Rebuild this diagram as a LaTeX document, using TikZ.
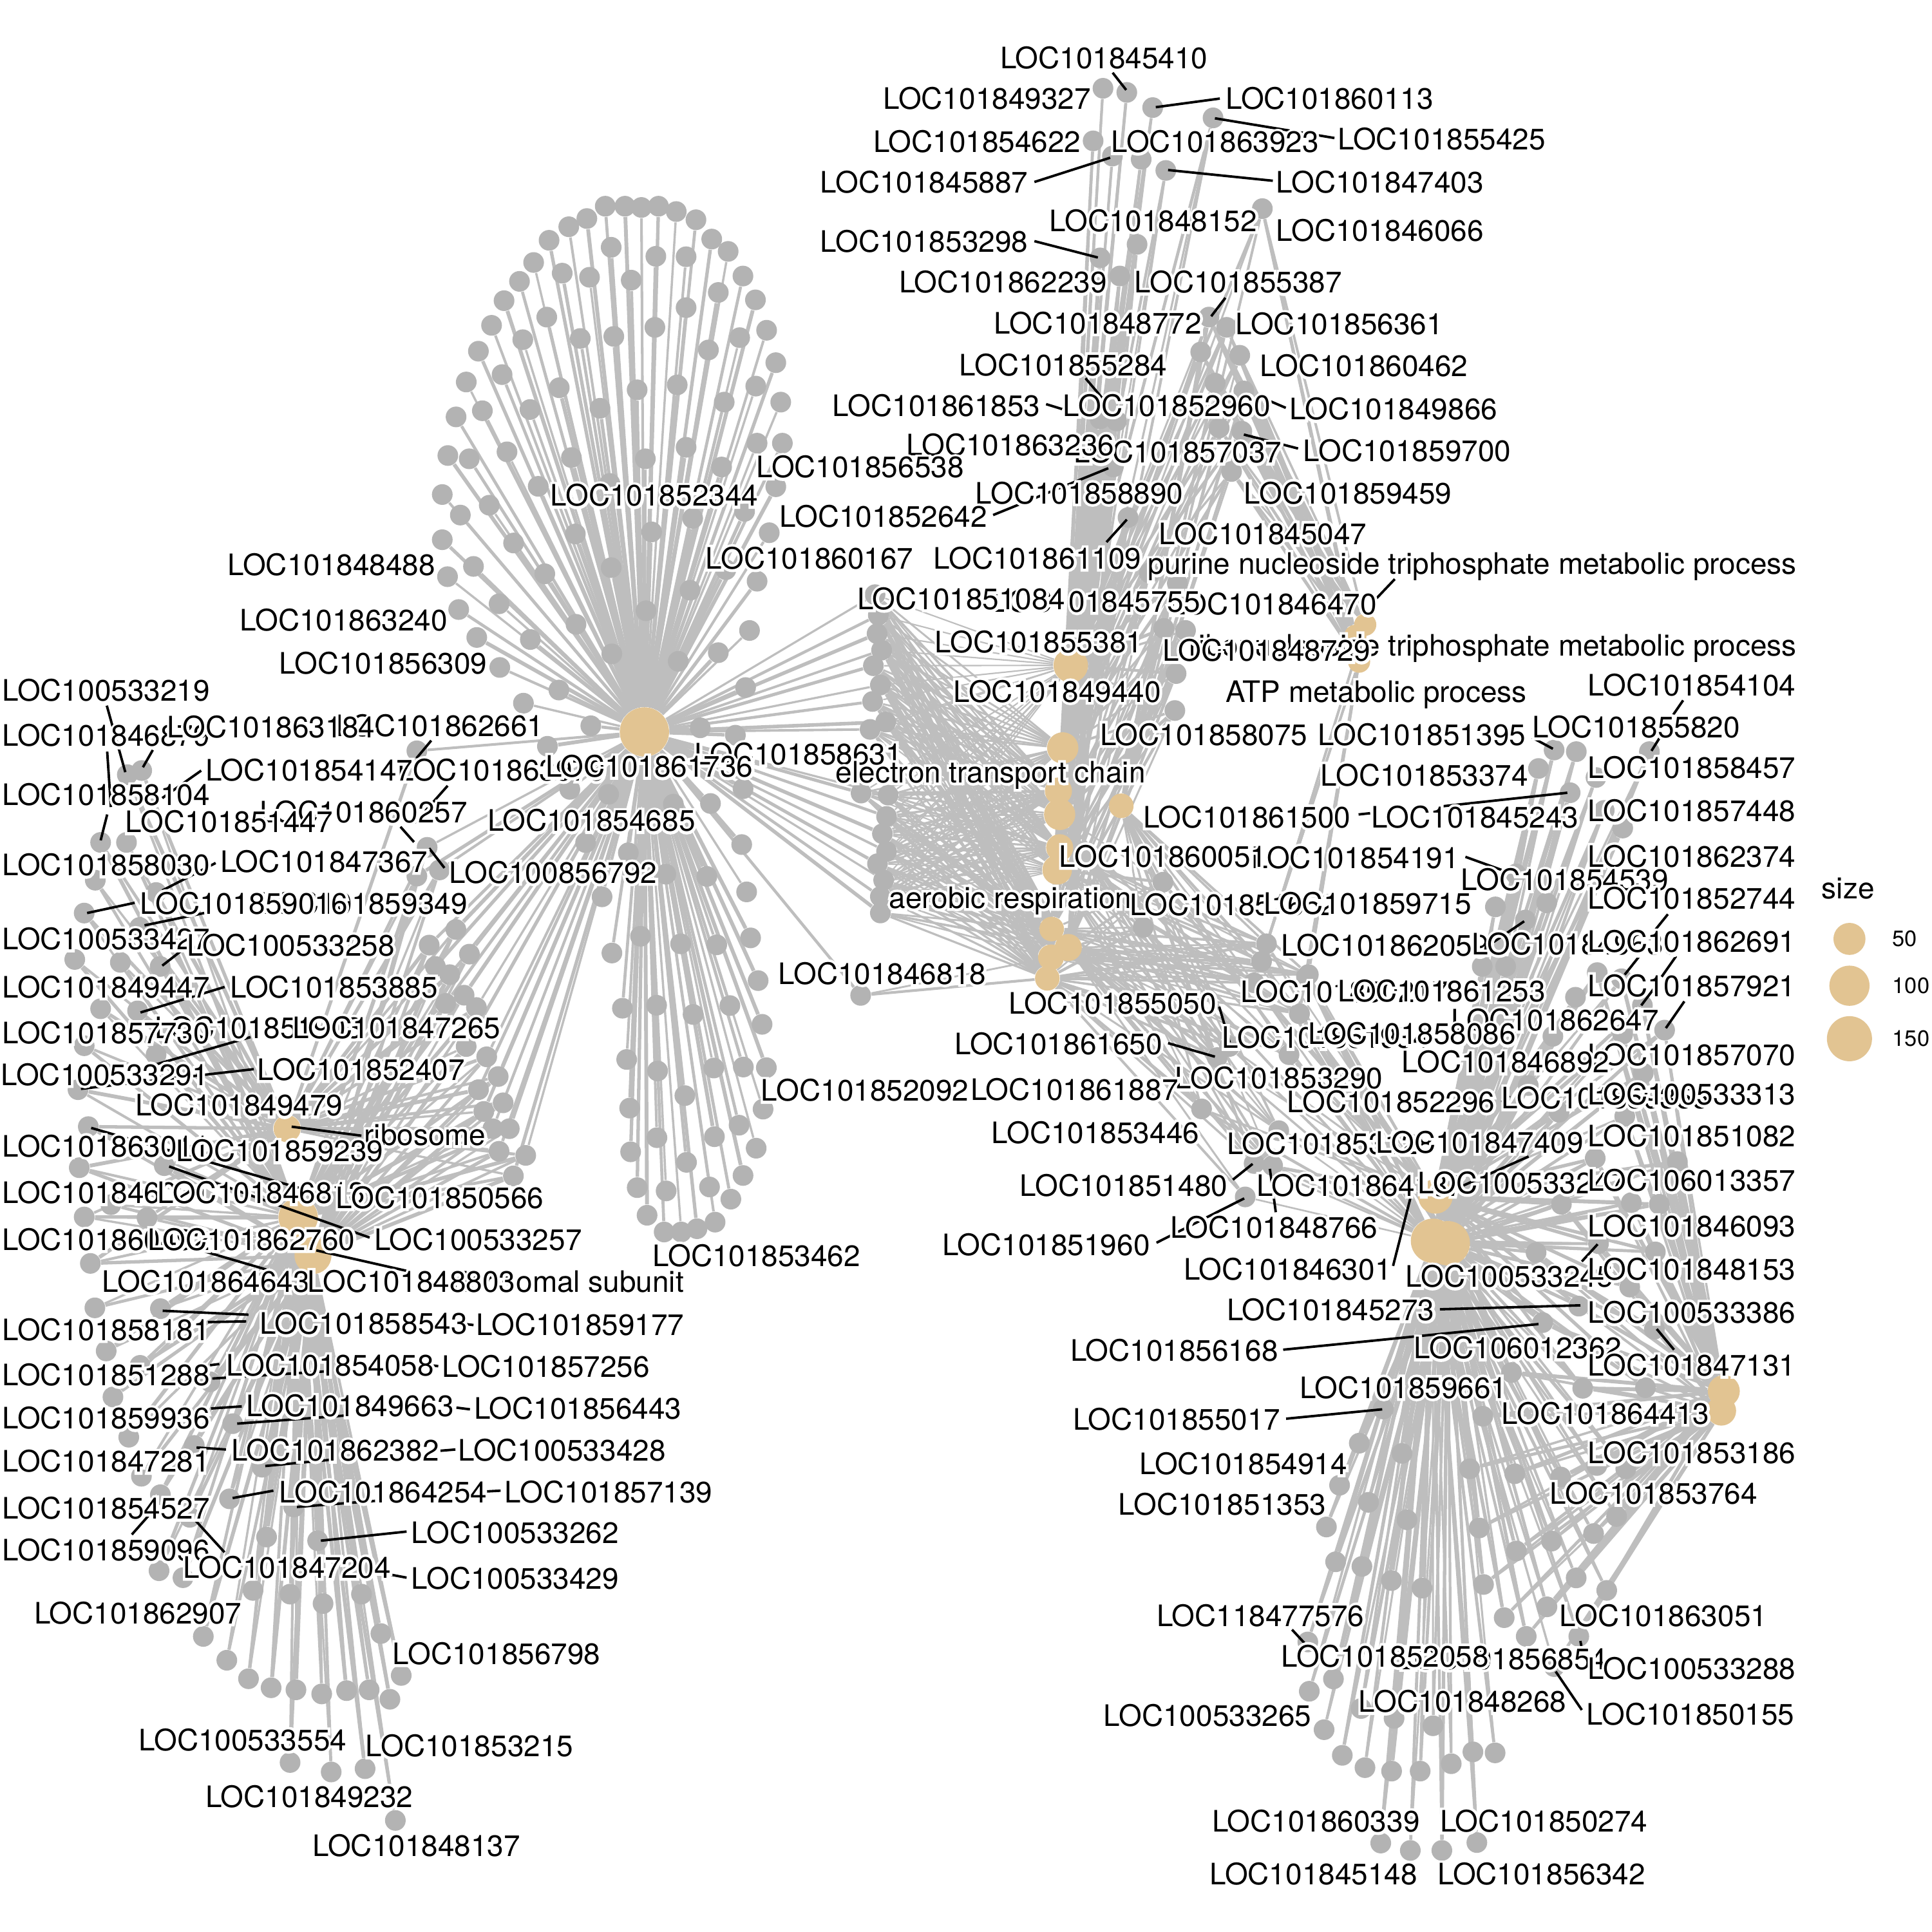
\documentclass[tikz,border=0pt]{standalone}
\usepackage{fontspec}
\setmainfont{TeX Gyre Heros}
\newfontfamily\halofont[FakeBold=18]{TeX Gyre Heros}
\usetikzlibrary{calc}
\pgfdeclarelayer{edges}\pgfdeclarelayer{labs}
\pgfsetlayers{edges,main,labs}
\definecolor{genecol}{HTML}{B3B3B3}
\definecolor{edgecol}{HTML}{BEBEBE}
\definecolor{hubcol}{HTML}{E2C492}
\tikzset{
 gene/.style={circle,fill=genecol,draw=none,inner sep=0pt,minimum size=8.4pt},
 hubnode/.style={circle,fill=hubcol,draw=none,inner sep=0pt,minimum size=#1},
 edge/.style={draw=edgecol},
 leader/.style={draw=black,line width=1pt},
 labeltext/.style={inner sep=0pt,outer sep=0pt,font=\fontsize{12}{14}\selectfont,text=black},
 legtext/.style={inner sep=0pt,outer sep=0pt,font=\fontsize{9}{11}\selectfont,anchor=west}
}
\newcounter{gn}\newcounter{en}\newcounter{ln}\newcounter{ld}\newcounter{gs}
\gdef\alllinks{}
\newcommand\links[4]{\foreach \g in {#1,...,#2}{\foreach \h in {#3}{\stepcounter{en}\pgfmathsetmacro\lw{#4*(0.9+0.16*mod(7*\arabic{en},5))}\draw[edge,line width=\lw pt] (\h) -- (g\g);}}}
\newcommand\genes[7][1]{%
\setcounter{gs}{\value{gn}}\stepcounter{gs}%
\foreach \zx/\zy in {#7}{%
 \stepcounter{gn}%
 \pgfmathsetmacro\px{#2+#3*\zx}\pgfmathsetmacro\py{#4+#5*\zy}%
 \node[gene] (g\arabic{gn}) at (\px,\py) {};%
}%
\xdef\alllinks{\unexpanded\expandafter{\alllinks}\noexpand\links{\arabic{gs}}{\arabic{gn}}{#6}{#1}}%
}
\newcommand\morelinks[2]{\xdef\alllinks{\unexpanded\expandafter{\alllinks}\noexpand\links{\arabic{gs}}{\arabic{gn}}{#1}{#2}}}
\newcommand\lab[4][center]{\stepcounter{ln}%
 \node[labeltext,anchor=#1] (l\arabic{ln}) at (#2,#3) {\rlap{\color{white}\halofont #4}#4};}
\newcommand\lead[4]{\stepcounter{ld}%
 \coordinate (pa\arabic{ld}) at (#1,#2);\coordinate (pb\arabic{ld}) at (#3,#4);\draw[leader] (pa\arabic{ld}) -- (pb\arabic{ld});}
\begin{document}
\begin{tikzpicture}[x=0.5pt,y=-0.5pt]
\begin{pgfonlayer}{edges}
\fill[white] (0,0) rectangle (1568,1568);
\end{pgfonlayer}
\useasboundingbox (0,0) rectangle (1568,1568);
% hubs
\node[hubnode=20pt] (H) at (523,594) {};
\node[hubnode=14pt] (M1) at (869,540) {};
\node[hubnode=12.7pt] (M2) at (862.5,607) {};
\node[hubnode=11pt] (M3) at (859,642) {};
\node[hubnode=12.7pt] (M4) at (860,661) {};
\node[hubnode=10pt] (M5) at (910,654) {};
\node[hubnode=11pt] (M6) at (860,688) {};
\node[hubnode=12pt] (M7) at (858,706) {};
\node[hubnode=10pt] (M8) at (853.5,754) {};
\node[hubnode=11pt] (M9) at (867,769) {};
\node[hubnode=10.5pt] (M10) at (853,777) {};
\node[hubnode=10pt] (M11) at (850,794) {};
\node[hubnode=9pt] (P1) at (1108,507) {};
\node[hubnode=9pt] (P2) at (1100,516) {};
\node[hubnode=9pt] (P3) at (1103,537) {};
\node[hubnode=14pt] (B1) at (1165,971) {};
\node[hubnode=18pt] (B2) at (1163,1007) {};
\node[hubnode=18pt] (B3) at (1175,1009) {};
\node[hubnode=13pt] (RA) at (1399,1129) {};
\node[hubnode=12pt] (RB) at (1397,1145) {};
\node[hubnode=11pt] (Ra) at (233,916) {};
\node[hubnode=16pt] (Rb) at (242,988) {};
\node[hubnode=15pt] (Rc) at (254,1019) {};
% central hub: upper fan
\genes{313.6}{.2667}{130.7}{.33333}{H}{666/110,726/110,776/113,828/110,882/123,942/143,610/140,555/160,495/193,448/247,405/293,358/340,320/400,280/463,243/538,212/623,187/717,170/812,170/922,186/1012,220/1092,275/1160,345/1233,990/190,1040/220,1085/280,1123/338,1157/412,1185/491,1200/587,1205/687,1185/793,1165/905,1128/1023,1105/1143,684/210,820/232,912/233,535/273,618/283,745/290,1010/320,912/357,488/380,415/435,590/432,692/427,817/405,980/460,1075/430,352/520,526/552,763/557,885/545,1124/548,1028/587,292/608,437/605,650/602,367/708,252/725,563/722,788/725,912/697,1128/687,1020/745,462/792,680/785,1090/853,313/838,225/862,575/908,807/903,932/870,387/930,265/987,482/1005,684/990,1033/995,343/1078,577/1128,790/1095,924/1045,438/1165,686/1200,888/1218,1010/1197,525/1288,1093/1282,417/1320,622/1375,490/1425,955/1380,1062/1398}
% central hub: lower fan
\genes{339.8}{.2667}{627.3}{.2667}{H}{460/50,578/65,775/95,888/93,987/48,508/212,638/243,983/218,752/308,877/315,998/362,558/377,1010/502,907/523,797/520,675/497,588/548,1033/632,947/708,835/735,724/707,620/716,1045/765,633/872,727/907,898/898,988/895,1058/897,810/982,642/1020,1048/1023,975/1072,900/1107,725/1110,645/1153,1027/1142,815/1185,987/1225,885/1260,665/1262,753/1272,950/1297,695/1346,902/1367,847/1387,799/1397,747/1397}
\genes[.7]{339.8}{.2667}{627.3}{.2667}{M11,M10}{1345/677}\morelinks{H}{.85}
% column between central hub and middle hubs
\genes[.62]{679.5}{.33333}{444.3}{.33333}{M1,M2,M3,M4,M6,M7,M8,M9,M10,M11}{92/115,100/165,97/210,108/250,88/288,105/335,86/375,118/425,80/443,58/598,124/603,120/655,110/697,120/740,98/770,113/810,105/850,105/890}\morelinks{H}{.95}
% top fan
\genes[.8]{679.5}{.33333}{0}{.33333}{M1,M4,M8}{647/215,705/225,768/262,915/287,623/343,670/380,740/388,800/415}
\genes[.85]{679.5}{.33333}{0}{.33333}{M1,M2,M4,M7,M8,M9}{730/595,640/628,688/672,640/1020,680/1025,640/1095,672/1137,708/1260,760/1395,828/1420,795/1530,848/1535,825/1640,822/1730}
\genes[.85]{679.5}{.33333}{0}{.33333}{P1,P2,P3,M1,M2,M5}{1035/508,905/772,948/797,885/857,980/865,920/933,990/952,930/1042,985/1050,960/1148}
% lower middle
\genes[.75]{679.5}{.33333}{444.3}{.33333}{M5,M6,M7,M8,M9,M10,M11,P1,P3,B1,B2}{1045/965,1033/1008,1015/1060,1147/1040,1125/1135}
\genes[.75]{679.5}{.33333}{444.3}{.33333}{M4,M5,M7,M8,M9,M11,B1,B2}{1100/1235,925/1242,955/1215,887/1367,1075/1420,1015/1500,1060/1505,745/925,793/815}
\genes[.75]{888.6}{.4}{888.6}{.4}{M9,M11,B2}{305/207}
% right upper
\genes{1045.3}{.33333}{522.7}{.33333}{B1,B2,B3}{648/258,702/262,610/303,880/262,750/325,687/362,770/405,815/448,555/560,505/640,630/630,578/672,473/785,530/785,700/860,645/955,585/1075,660/1140,45/810,28/900}
\genes{1045.3}{.33333}{522.7}{.33333}{B1,B2,RA,RB}{753/800,812/815,863/880,917/940,815/950,865/1045,820/1150}
% bottom-right fans
\genes{1045.3}{.2667}{914.7}{.2667}{B1,B2,B3,RA,RB}{935/95,1185/105,832/235,1045/230,1130/235,755/382,945/355,1118/380,1040/487,885/545,775/595,1115/615,680/747,897/795,1088/793,593/880}
\genes[.9]{1045.3}{.2667}{914.7}{.2667}{B2,B3}{290/858,217/962,347/993,157/1090,117/1217,245/1142,145/1323,225/1337,362/1195,315/1380,408/1403}
\genes[.9]{1045.3}{.2667}{914.7}{.2667}{B2,B3,RA,RB}{553/1040,690/1055,830/1065,940/1030,1028/1040,582/1220,1000/1185,930/1237,802/1260,695/1290,595/1392,877/1372,970/1410,788/1460,658/1493,725/1550,885/1550}
\genes[.9]{888.6}{.4}{888.6}{.4}{B2,B3}{432/1110,484/1185,435/1210,465/1288,502/1340,548/1365,602/1372,660/1372,723/1357,767/1333,812/1335,540/1245,607/1265,686/1280,580/1518,640/1533,704/1533,775/1517}
\genes{888.6}{.4}{888.6}{.4}{B2,RB}{932/1160}
% left group
\genes{0}{.33333}{522.7}{.33333}{Ra,Rb}{310/318,345/308,245/483,308/483,232/575,380/605,205/655,340/690,182/768,293/775,390/785,245/888,335/893,205/978,380/1000,190/1085}
\genes{0}{.33333}{522.7}{.33333}{Ra,Rb,Rc}{215/1175,193/1275,400/1270,205/1395,358/1397,270/1365,220/1508}
\genes{0}{.33333}{522.7}{.33333}{H,Ra,Rb,Rc}{1040/495,1015/565,1070/550,1110/695,1045/733,1143/755,1060/785,1095/805,1130/855,1085/875,1160/885,1135/980,1185/1005,1213/1053,1165/1085,1225/1117,1178/1138,1200/1180,1240/1180,1215/1235,1280/1245,1250/1295}
\genes{0}{.33333}{522.7}{.33333}{H,Ra}{1015/260}
\genes{0}{.3667}{993.1}{.33333}{Rb,Rc}{210/205,355/207,235/310,310/345,250/422,465/385,285/520,515/487,430/540,313/615,580/593,355/660,508/670,650/690,420/715,590/763,703/772,352/845,405/862,560/893,642/902,715/925,800/902,450/1005,843/998,502/1063,888/1100,550/1108,600/1130,655/1135,712/1145,767/1137,817/1135,863/1158,642/1312,733/1335,808/1327,875/1453}
% all edges, once, under the nodes
\begin{pgfonlayer}{edges}
\alllinks
\end{pgfonlayer}
\begin{pgfonlayer}{labs}
% leader lines
\lead{903}{59}{914}{73}\lead{990}{80}{938}{87}\lead{1083}{112}{986}{96}\lead{839.5}{147.7}{901}{128}\lead{1033}{146.7}{948}{138}\lead{839.5}{195.7}{891}{209}\lead{994.5}{241.7}{983}{256.7}\lead{881}{307}{894.5}{323}\lead{849}{328}{862}{332}\lead{1043.5}{331}{1029.5}{325}\lead{1053.5}{364}{1009.5}{352.7}\lead{806}{418}{899.5}{380}\lead{898}{440}{914.5}{421.7}\lead{1132}{470}{1113}{490}
\lead{86.7}{572.7}{101.7}{626.7}\lead{124}{608.7}{116}{622.7}\lead{87}{610}{90}{655}\lead{87}{661}{81.7}{682}\lead{163.3}{625.4}{131.7}{647.7}\lead{175}{700.4}{131.7}{722.7}\lead{350}{601}{338}{615.4}\lead{363.3}{637.7}{336.7}{667.7}\lead{325}{671}{336}{683.4}\lead{348.3}{688.4}{360.7}{704.4}\lead{109.3}{732.7}{70.7}{741}\lead{165.7}{741}{117.3}{751}\lead{146.7}{772}{131.7}{783.7}\lead{182.3}{801}{114}{821.7}\lead{203.3}{841.7}{113.3}{867.7}\lead{206}{867.7}{65.7}{883.7}\lead{74}{915.4}{270}{972}\lead{137.3}{946.7}{300}{1004.4}\lead{236.7}{914.4}{293.3}{921.7}\lead{256.7}{1014.8}{330}{1031.4}\lead{163}{1014.8}{216.3}{1030.4}
\lead{132}{1063.8}{201.7}{1067}\lead{168.7}{1073}{199.8}{1072.4}\lead{373.3}{1074}{384.3}{1075.4}\lead{170.5}{1108}{178}{1107}\lead{172.3}{1118.8}{264}{1113}\lead{350}{1108}{355.7}{1108.8}\lead{171.2}{1143.1}{196.2}{1141.4}\lead{192.5}{1155.4}{280.5}{1148.8}\lead{370.4}{1142.4}{381.4}{1143.8}\lead{159.5}{1174.8}{183.4}{1176.4}\lead{215.3}{1189.8}{267.7}{1184.8}\lead{357.5}{1177.4}{369.6}{1176.4}\lead{188.8}{1215.8}{221.9}{1209.8}\lead{241}{1223}{304.4}{1218.1}\lead{395.3}{1210.4}{406.3}{1209.8}\lead{260.4}{1250.4}{330}{1243}\lead{317.2}{1278}{330}{1280.4}\lead{120.3}{1230.4}{107}{1245.4}\lead{157.7}{1233}{182.2}{1259.8}
\lead{1016.6}{944.6}{1000.6}{957.4}\lead{1030.6}{948.6}{1035.4}{983.8}\lead{1009.8}{972.6}{938.6}{1008.6}\lead{1144.6}{972.6}{1130.6}{1027.4}\lead{1240.6}{938.6}{1168.6}{970.6}\lead{1296.6}{1009.8}{1283.8}{1023.8}\lead{1168.6}{1062.6}{1282.6}{1059.4}\lead{1041.4}{1095.4}{1248.6}{1074.6}\lead{1344.6}{1078.6}{1358.6}{1095.4}\lead{1043.8}{1151.4}{1121.8}{1143.8}\lead{1048.6}{1322.6}{1058.6}{1333.4}\lead{1282.6}{1331.8}{1283.4}{1335.8}\lead{1262.6}{1356.6}{1283.8}{1387.8}
\lead{1243.6}{598.7}{1260.3}{607.7}\lead{1366}{568.4}{1358}{580}\lead{1347}{598.7}{1340.3}{609.4}\lead{1102.6}{661}{1112}{660}\lead{1170.3}{654.4}{1272}{643.4}\lead{1189.3}{695.4}{1218.6}{706}\lead{1237}{747.7}{1210}{766}\lead{1353.6}{742}{1343.6}{754.4}\lead{1331.3}{775}{1318.6}{791}\lead{1360.3}{776}{1348.6}{792.7}\lead{1342}{802.7}{1332}{816}\lead{1367}{812.7}{1352}{834.4}\lead{1225.3}{889.4}{1218.6}{894.4}\lead{989.5}{817}{998}{846}\lead{948}{846.6}{986}{857.6}
% labels
\lab{896}{47}{LOC101845410}\lab{801}{80}{LOC101849327}\lab{1079}{80}{LOC101860113}\lab{793}{115}{LOC101854622}\lab{986}{115}{LOC101863923}\lab{1170}{113}{LOC101855425}\lab{750}{148}{LOC101845887}\lab{1120}{148}{LOC101847403}\lab{936}{179}{LOC101848152}\lab{1120}{187}{LOC101846066}\lab{750}{196}{LOC101853298}\lab{814}{229}{LOC101862239}\lab{1005}{229}{LOC101855387}\lab{891}{262}{LOC101848772}\lab{1087}{263}{LOC101856361}\lab{1107}{297}{LOC101860462}\lab{863}{296}{LOC101855284}\lab{760}{329}{LOC101861853}\lab{947}{329}{LOC101852960}\lab{1131}{332}{LOC101849866}\lab{956}{367}{LOC101857037}\lab{820}{361}{LOC101863236}\lab{1142}{366}{LOC101859700}\lab{698}{379}{LOC101856538}\lab{531}{402}{LOC101852344}\lab{876}{400}{LOC101858890}\lab{1094}{400}{LOC101859459}\lab{717}{419}{LOC101852642}\lab{842}{453}{LOC101861109}\lab{1025}{433}{LOC101845047}\lab{657}{453}{LOC101860167}\lab{269}{458}{LOC101848488}
\lab[east]{1458}{460}{purine nucleoside triphosphate metabolic process}
\lab{1033}{490}{LOC101846470}\lab{890}{488}{LOC101845755}\lab{780}{486}{LOC101851084}\lab{279}{503}{LOC101863240}\lab{843}{521}{LOC101855381}
\lab[east]{1458}{526}{ribonucleoside triphosphate metabolic process}
\lab{1028}{528}{LOC101848729}\lab{311}{538}{LOC101856309}\lab{858}{561}{LOC101849440}\lab{1117}{564}{ATP metabolic process}\lab{1373}{556}{LOC101854104}\lab{86}{560}{LOC100533219}\lab{86}{597}{LOC101846879}\lab{357}{589}{LOC101862661}\lab{220}{590}{LOC101863184}\lab{1328}{590}{LOC101855820}\lab{1154}{596}{LOC101851395}\lab{977}{596}{LOC101858075}\lab{407}{625}{LOC101863979}\lab{251}{625}{LOC101854147}\lab{648}{612}{LOC101858631}\lab{527}{622}{LOC101861736}\lab{804}{629}{electron transport chain}\lab{1373}{623}{LOC101858457}\lab{1156}{629}{LOC101853374}\lab{86}{645}{LOC101858104}\lab{295}{659}{LOC101860257}\lab{186}{667}{LOC101851447}\lab{480}{666}{LOC101854685}\lab{1373}{658}{LOC101857448}\lab{1012}{663}{LOC101861500}\lab{1197}{663}{LOC101845243}\lab{1373}{695}{LOC101862374}\lab{1100}{696}{LOC101854191}\lab{944}{695}{LOC101860051}\lab{86}{702}{LOC101858030}\lab{263}{699}{LOC101847367}\lab{449}{708}{LOC100856792}\lab{1270}{714}{LOC101854539}\lab{295}{733}{LOC101859349}\lab{198}{733}{LOC101859016}\lab{1373}{729}{LOC101852744}\lab{820}{731}{aerobic respiration}\lab{1001}{734}{LOC101851652}\lab{1110}{733}{LOC101859715}\lab{86}{762}{LOC100533427}\lab{236}{767}{LOC100533258}\lab{1124}{767}{LOC101862059}\lab{1279}{766}{LOC101849630}\lab{1373}{764}{LOC101862691}\lab{716}{790}{LOC101846818}\lab{86}{801}{LOC101849447}\lab{271}{801}{LOC101853885}\lab{1091}{805}{LOC101850217}\lab{1170}{804}{LOC101861253}\lab{1373}{800}{LOC101857921}\lab{903}{814}{LOC101855050}\lab{210}{834}{LOC101851903}\lab{322}{834}{LOC101847265}\lab{86}{838}{LOC101857730}\lab{1262}{828}{LOC101862647}\lab{1076}{842}{LOC101851934}\lab{1146}{839}{LOC101858086}\lab{859}{847}{LOC101861650}\lab{1373}{856}{LOC101857070}\lab{1222}{862}{LOC101846892}\lab{85}{872}{LOC100533291}\lab{293}{868}{LOC101852407}\lab{1038}{875}{LOC101853290}\lab{872}{884}{LOC101861887}\lab{702}{885}{LOC101852092}\lab{1303}{891}{LOC101859355}\lab{1373}{888}{LOC100533313}\lab{194}{897}{LOC101849479}\lab{1129}{894}{LOC101852296}\lab{1373}{922}{LOC101851082}\lab{889}{919}{LOC101853446}\lab{345}{921}{ribosome}\lab{86}{930}{LOC101863011}\lab{227}{934}{LOC101859239}\lab{1080}{928}{LOC101853128}\lab{1201}{927}{LOC101847409}\lab{1104}{962}{LOC101864187}\lab{1235}{960}{LOC100533247}\lab{1373}{958}{LOC106013357}\lab{912}{962}{LOC101851480}\lab{86}{968}{LOC101846021}\lab{212}{968}{LOC101846813}\lab{357}{972}{LOC101850566}\lab{1373}{995}{LOC101846093}\lab{1034}{996}{LOC101848766}\lab{86}{1006}{LOC101860492}\lab{204}{1006}{LOC101862760}\lab{388}{1006}{LOC100533257}\lab{849}{1010}{LOC101851960}\lab{614}{1019}{LOC101853462}
\lab[east]{555}{1040}{ribosomal subunit}
\lab{1045}{1030}{LOC101846301}\lab{1225}{1036}{LOC100533245}\lab{1373}{1030}{LOC101848153}\lab{167}{1040}{LOC101864643}\lab{334}{1040}{LOC101848803}\lab{1373}{1065}{LOC100533386}\lab{1080}{1063}{LOC101845273}\lab{86}{1079}{LOC101858181}\lab{295}{1074}{LOC101858543}\lab{471}{1075}{LOC101859177}\lab{953}{1096}{LOC101856168}\lab{1232}{1094}{LOC106012362}\lab{1373}{1108}{LOC101847131}\lab{86}{1116}{LOC101851288}\lab{268}{1108}{LOC101854058}\lab{443}{1109}{LOC101857256}\lab{1139}{1126}{LOC101859661}\lab{1303}{1147}{LOC101864413}\lab{86}{1151}{LOC101859936}\lab{284}{1141}{LOC101849663}\lab{469}{1143}{LOC101856443}\lab{955}{1152}{LOC101855017}\lab{1373}{1179}{LOC101853186}\lab{86}{1186}{LOC101847281}\lab{272}{1177}{LOC101862382}\lab{456}{1177}{LOC100533428}\lab{1009}{1188}{LOC101854914}\lab{1342}{1212}{LOC101853764}\lab{311}{1211}{LOC101864254}\lab{494}{1211}{LOC101857139}\lab{992}{1221}{LOC101851353}\lab{86}{1224}{LOC101854527}\lab{418}{1244}{LOC100533262}\lab{86}{1258}{LOC101859096}\lab{233}{1272}{LOC101847204}\lab{418}{1281}{LOC100533429}\lab{112}{1309}{LOC101862907}\lab{1350}{1311}{LOC101863051}\lab{1023}{1311}{LOC118477576}\lab{403}{1342}{LOC101856798}\lab{1220}{1346}{LOC101856854}\lab{1124}{1344}{LOC101852058}\lab{1373}{1354}{LOC100533288}\lab{1187}{1381}{LOC101848268}\lab{1372}{1391}{LOC101850155}\lab{980}{1392}{LOC100533265}\lab{197}{1412}{LOC100533554}\lab{381}{1417}{LOC101853215}\lab{251}{1458}{LOC101849232}\lab{1068}{1478}{LOC101860339}\lab{1253}{1478}{LOC101850274}\lab{338}{1498}{LOC101848137}\lab{1066}{1521}{LOC101845148}\lab{1251}{1521}{LOC101856342}
\end{pgfonlayer}
% legend
\node[labeltext,anchor=west] (legt) at (1478.6,721) {size};
\node[hubnode=13pt] (leg1) at (1501,762) {};
\node[hubnode=16.3pt] (leg2) at (1501,800) {};
\node[hubnode=18.3pt] (leg3) at (1501,843) {};
\node[legtext] (legl1) at (1536,762) {50};
\node[legtext] (legl2) at (1536,800) {100};
\node[legtext] (legl3) at (1536,843) {150};
\end{tikzpicture}
\end{document}
